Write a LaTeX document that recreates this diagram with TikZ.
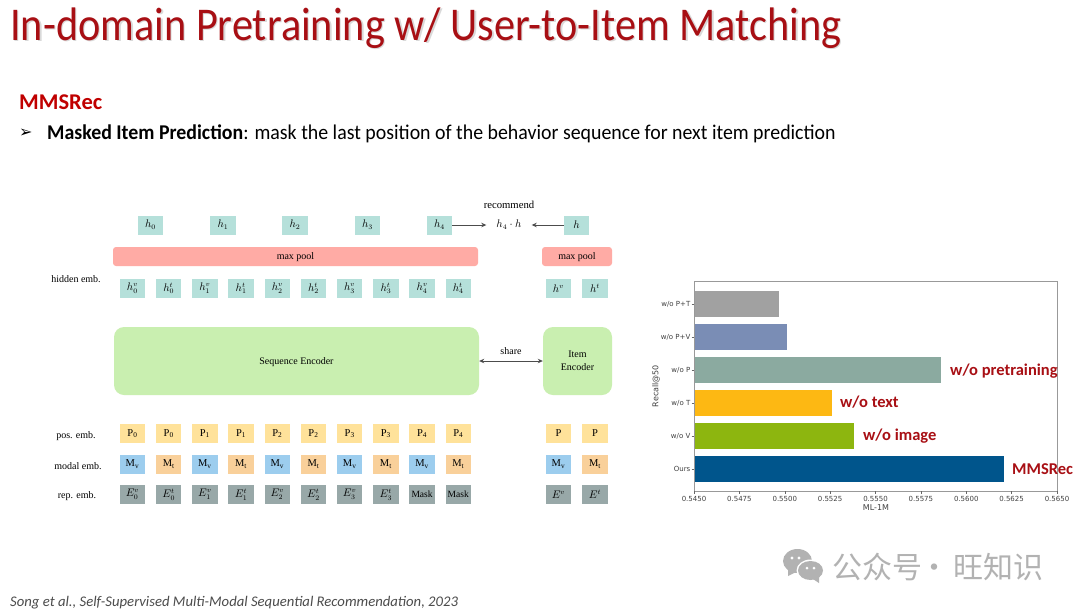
\documentclass[tikz,border=0pt]{standalone}
\usepackage{amsmath,amssymb}
\usepackage{fontspec}
\setmainfont{Liberation Serif}
\newfontfamily\slidefont{Carlito}
\newfontfamily\titlefont[FakeStretch=0.9]{Carlito}
\newfontfamily\linefont[FakeStretch=0.946]{Carlito}
\newfontfamily\chartfont{DejaVu Sans}
\newfontfamily\dingfont{DejaVu Sans}
\newfontfamily\cjkfont{Noto Sans CJK SC}
\usepackage{tikz}
\usetikzlibrary{arrows.meta}
\definecolor{titlered}{HTML}{A80F14}
\definecolor{headred}{HTML}{C00000}
\definecolor{tealbox}{HTML}{B5E0DA}
\definecolor{pinkbox}{HTML}{FFABA5}
\definecolor{greenbox}{HTML}{C9EFB0}
\definecolor{yellowbox}{HTML}{FFE29A}
\definecolor{bluebox}{HTML}{9CCDEE}
\definecolor{orangebox}{HTML}{F9D09A}
\definecolor{graybox}{HTML}{98A8A8}
\definecolor{markgray}{HTML}{B2B2B2}

\begin{document}
\begin{tikzpicture}[x=1pt,y=-1pt]
\tikzset{cell/.style={minimum width=25.4pt,minimum height=19pt,inner sep=0pt,font=\fontsize{10.5}{10}\selectfont},
hcell/.style={cell,fill=tealbox},
pcell/.style={cell,fill=yellowbox},
vcell/.style={cell,fill=bluebox},
tcell/.style={cell,fill=orangebox},
ecell/.style={cell,fill=graybox},
pool/.style={fill=pinkbox,rounded corners=3pt,minimum height=19pt,inner sep=0pt,text depth=0pt,font=\fontsize{10}{10}\selectfont},
encoder/.style={fill=greenbox,rounded corners=10pt,inner sep=0pt,align=center,font=\fontsize{10}{12.5}\selectfont},
rowname/.style={inner sep=0pt,font=\fontsize{10}{10}\selectfont},
tick/.style={inner sep=0pt,text=black!75,font=\chartfont\fontsize{7}{7}\selectfont},
barname/.style={inner sep=0pt,anchor=west,text=titlered,font=\slidefont\bfseries\fontsize{16.5}{16.5}\selectfont},
every edge/.style={draw,black!70,line width=0.8pt}}
\useasboundingbox (0,0) rectangle (1080,611);
\fill[white] (0,0) rectangle (1080,611);

% slide text
\node (shadow) at (11.5,29.5) [anchor=west,inner sep=0pt,text=black!15,font=\titlefont\fontsize{47}{47}\selectfont] {In-domain Pretraining w/ User-to-Item Matching};
\node (title) at (10,28) [anchor=west,inner sep=0pt,text=titlered,font=\titlefont\fontsize{47}{47}\selectfont] {In-domain Pretraining w/ User-to-Item Matching};
\node (head) at (19,102) [anchor=west,inner sep=0pt,text=headred,font=\slidefont\bfseries\fontsize{22.5}{22.5}\selectfont] {MMSRec};
\node (bullet) at (19,133) [anchor=west,inner sep=0pt,font=\dingfont\fontsize{16}{16}\selectfont] {➢};
\node (line) at (47,133.5) [anchor=west,inner sep=0pt,font=\linefont\fontsize{21}{21}\selectfont] {\textbf{Masked Item Prediction}: mask the last position of the behavior sequence for next item prediction};
\node (cite) at (10,603) [anchor=west,inner sep=0pt,text=black!70,font=\slidefont\itshape\fontsize{14.7}{15}\selectfont] {Song et al., Self-Supervised Multi-Modal Sequential Recommendation, 2023};

% top row
\node (h0) at (150.5,225) [hcell] {$h_0$};
\node (h1) at (223,225) [hcell] {$h_1$};
\node (h2) at (295,225) [hcell] {$h_2$};
\node (h3) at (367.5,225) [hcell] {$h_3$};
\node (h4) at (439.5,225) [hcell] {$h_4$};
\node (h) at (576.5,225) [hcell] {$h$};
\node (dot) at (509,225) [inner xsep=10pt,inner ysep=1pt,font=\fontsize{10.5}{10}\selectfont] {$h_4\cdot h$};
\node (rec) at (509,205) [rowname,font=\fontsize{10.7}{10}\selectfont] {recommend};
\node (pool1) at (295.5,256.5) [pool,minimum width=365pt] {max pool};
\node (pool2) at (577,256.5) [pool,minimum width=70pt] {max pool};

% hidden emb.
\node (hname) at (76,279) [rowname] {hidden emb.};
\node (hv0) at (132.5,288.5) [hcell] {$h_0^v$};
\node (ht0) at (168.7,288.5) [hcell] {$h_0^t$};
\node (hv1) at (204.9,288.5) [hcell] {$h_1^v$};
\node (ht1) at (241.1,288.5) [hcell] {$h_1^t$};
\node (hv2) at (277.3,288.5) [hcell] {$h_2^v$};
\node (ht2) at (313.5,288.5) [hcell] {$h_2^t$};
\node (hv3) at (349.7,288.5) [hcell] {$h_3^v$};
\node (ht3) at (385.9,288.5) [hcell] {$h_3^t$};
\node (hv4) at (422.1,288.5) [hcell] {$h_4^v$};
\node (ht4) at (458.3,288.5) [hcell] {$h_4^t$};
\node (hv) at (558.5,288.5) [hcell] {$h^v$};
\node (ht) at (595,288.5) [hcell] {$h^t$};

% encoders
\node (seq) at (296.5,361) [encoder,text depth=0pt,minimum width=365pt,minimum height=68pt] {Sequence Encoder};
\node (item) at (577.5,361) [encoder,minimum width=69pt,minimum height=68pt] {Item\\Encoder};
\node (share) at (511,351) [rowname] {share};

% pos. emb.
\node (pname) at (76,436) [rowname] {pos. emb.};
\node (p0) at (132.5,433.5) [pcell] {$\mathrm{P_0}$};
\node (p1) at (168.7,433.5) [pcell] {$\mathrm{P_0}$};
\node (p2) at (204.9,433.5) [pcell] {$\mathrm{P_1}$};
\node (p3) at (241.1,433.5) [pcell] {$\mathrm{P_1}$};
\node (p4) at (277.3,433.5) [pcell] {$\mathrm{P_2}$};
\node (p5) at (313.5,433.5) [pcell] {$\mathrm{P_2}$};
\node (p6) at (349.7,433.5) [pcell] {$\mathrm{P_3}$};
\node (p7) at (385.9,433.5) [pcell] {$\mathrm{P_3}$};
\node (p8) at (422.1,433.5) [pcell] {$\mathrm{P_4}$};
\node (p9) at (458.3,433.5) [pcell] {$\mathrm{P_4}$};
\node (pv) at (558.5,433.5) [pcell] {$\mathrm{P}$};
\node (pt) at (595,433.5) [pcell] {$\mathrm{P}$};

% modal emb.
\node (mname) at (78,466) [rowname] {modal emb.};
\node (m0) at (132.5,464) [vcell] {$\mathrm{M_v}$};
\node (m1) at (168.7,464) [tcell] {$\mathrm{M_t}$};
\node (m2) at (204.9,464) [vcell] {$\mathrm{M_v}$};
\node (m3) at (241.1,464) [tcell] {$\mathrm{M_t}$};
\node (m4) at (277.3,464) [vcell] {$\mathrm{M_v}$};
\node (m5) at (313.5,464) [tcell] {$\mathrm{M_t}$};
\node (m6) at (349.7,464) [vcell] {$\mathrm{M_v}$};
\node (m7) at (385.9,464) [tcell] {$\mathrm{M_t}$};
\node (m8) at (422.1,464) [vcell] {$\mathrm{M_v}$};
\node (m9) at (458.3,464) [tcell] {$\mathrm{M_t}$};
\node (mv) at (558.5,464) [vcell] {$\mathrm{M_v}$};
\node (mt) at (595,464) [tcell] {$\mathrm{M_t}$};

% rep. emb.
\node (rname) at (77,496) [rowname] {rep. emb.};
\node (ev0) at (132.5,494.5) [ecell] {$E_0^v$};
\node (et0) at (168.7,494.5) [ecell] {$E_0^t$};
\node (ev1) at (204.9,494.5) [ecell] {$E_1^v$};
\node (et1) at (241.1,494.5) [ecell] {$E_1^t$};
\node (ev2) at (277.3,494.5) [ecell] {$E_2^v$};
\node (et2) at (313.5,494.5) [ecell] {$E_2^t$};
\node (ev3) at (349.7,494.5) [ecell] {$E_3^v$};
\node (et3) at (385.9,494.5) [ecell] {$E_3^t$};
\node (mask1) at (422.1,494.5) [ecell,font=\fontsize{9.5}{10}\selectfont] {Mask};
\node (mask2) at (458.3,494.5) [ecell,font=\fontsize{9.5}{10}\selectfont] {Mask};
\node (ev) at (558.5,494.5) [ecell] {$E^v$};
\node (et) at (595,494.5) [ecell] {$E^t$};

\path
(h4) edge [-{Stealth[length=5pt,width=4.5pt]}] (dot)
(h) edge [-{Stealth[length=5pt,width=4.5pt]}] (dot)
(seq) edge [{Stealth[length=5pt,width=4.5pt]}-{Stealth[length=5pt,width=4.5pt]}] (item);

% chart
\fill[black!37] (694,291) rectangle (779,317);
\fill[fill={rgb,255:red,122;green,141;blue,181}] (694,324) rectangle (787,350);
\fill[fill={rgb,255:red,139;green,170;blue,160}] (694,357) rectangle (941,383);
\fill[fill={rgb,255:red,253;green,184;blue,19}] (694,390) rectangle (832,416);
\fill[fill={rgb,255:red,141;green,182;blue,15}] (694,423) rectangle (854,449);
\fill[fill={rgb,255:red,0;green,85;blue,140}] (694,456) rectangle (1004,482);
\draw[black!40,line width=0.8pt] (694,281) rectangle (1057,491);
\draw[black!60,line width=0.4pt]
(691.5,304) -- (694,304) (691.5,337) -- (694,337) (691.5,370) -- (694,370)
(691.5,403) -- (694,403) (691.5,436) -- (694,436) (691.5,469) -- (694,469)
(694,491) -- (694,493.5) (739.4,491) -- (739.4,493.5) (784.8,491) -- (784.8,493.5)
(830.1,491) -- (830.1,493.5) (875.5,491) -- (875.5,493.5) (920.9,491) -- (920.9,493.5)
(966.3,491) -- (966.3,493.5) (1011.6,491) -- (1011.6,493.5) (1057,491) -- (1057,493.5);
\node (y1) at (690.5,304) [tick,anchor=east] {w/o P+T};
\node (y2) at (690.5,337) [tick,anchor=east] {w/o P+V};
\node (y3) at (690.5,370) [tick,anchor=east] {w/o P};
\node (y4) at (690.5,403) [tick,anchor=east] {w/o T};
\node (y5) at (690.5,436) [tick,anchor=east] {w/o V};
\node (y6) at (690.5,469) [tick,anchor=east] {Ours};
\node (x1) at (694,498.5) [tick] {0.5450};
\node (x2) at (739.4,498.5) [tick] {0.5475};
\node (x3) at (784.8,498.5) [tick] {0.5500};
\node (x4) at (830.1,498.5) [tick] {0.5525};
\node (x5) at (875.5,498.5) [tick] {0.5550};
\node (x6) at (920.9,498.5) [tick] {0.5575};
\node (x7) at (966.3,498.5) [tick] {0.5600};
\node (x8) at (1011.6,498.5) [tick] {0.5625};
\node (x9) at (1057,498.5) [tick] {0.5650};
\node (xname) at (876,508) [tick,font=\chartfont\fontsize{8}{8}\selectfont] {ML-1M};
\node (yname) at (656,386) [tick,rotate=90,font=\chartfont\fontsize{8}{8}\selectfont] {Recall@50};
\node (b3) at (950,371) [barname] {w/o pretraining};
\node (b4) at (840,402) [barname] {w/o text};
\node (b5) at (863,436) [barname] {w/o image};
\node (b6) at (1012,469) [barname] {MMSRec};

% watermark
\fill[markgray] (797.5,561) ellipse (14.5pt and 12pt);
\fill[markgray] (788,570) -- (788,576) -- (796,572) -- cycle;
\fill[white] (810.5,570.5) ellipse (14pt and 11pt);
\fill[markgray] (810.5,570.5) ellipse (12.5pt and 9.5pt);
\fill[markgray] (813,579) -- (819,583) -- (819,577) -- cycle;
\fill[white] (792,558) circle (1.7pt) (799,558) circle (1.7pt) (807,568) circle (1.5pt) (814,568) circle (1.5pt);
\node (mark) at (832,567) [anchor=west,inner sep=0pt,text=markgray,font=\cjkfont\fontsize{30}{30}\selectfont] {公众号\kern-3pt · \kern-2pt旺知识};
\end{tikzpicture}
\end{document}
